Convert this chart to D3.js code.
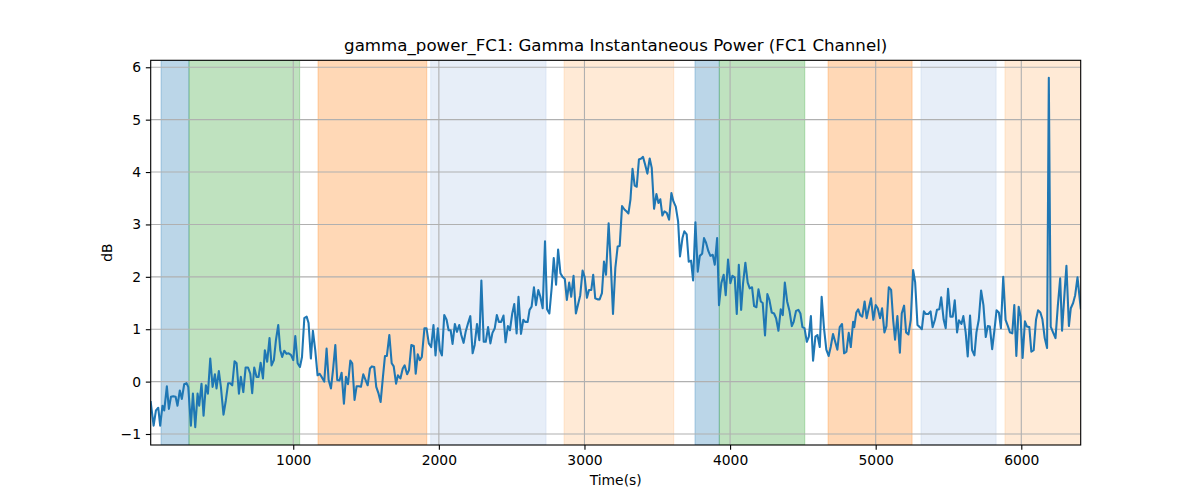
<!DOCTYPE html>
<html>
<head>
<meta charset="utf-8">
<script src="https://cdn.jsdelivr.net/npm/d3@7"></script>
<style>
  html, body { margin: 0; padding: 0; background: #ffffff; }
  svg { display: block; }
  text { font-family: "DejaVu Sans", sans-serif; fill: #000; }
</style>
</head>
<body>
<div id="chart"></div>
<script>
// ---------------- data ----------------
const chartTitle = "gamma_power_FC1: Gamma Instantaneous Power (FC1 Channel)";
const xLabel = "Time(s)";
const yLabel = "dB";

const xTicks = [1000, 2000, 3000, 4000, 5000, 6000];
const yTicks = [-1, 0, 1, 2, 3, 4, 5, 6];
const xDomain = [21, 6408];
const yDomain = [-1.21, 6.133];

// shaded stage intervals [start, end] and their category
const bandStarts = [92, 284, 1170, 1944, 2860, 3759, 3926, 4673, 5311, 5888];
const bandEnds   = [284, 1044, 1917, 2736, 3613, 3926, 4513, 5250, 5827, 6408];
const bandKinds  = ["A", "B", "C", "D", "E", "A", "B", "C", "D", "E"];
const bandColors = { A: "#1f77b4", B: "#2ca02c", C: "#ff7f0e", D: "#aec7e8", E: "#ffbb78" };

// gamma power time series
const times = [
  21,41,57,73,86,102,114,132,146,160,
  176,192,205,221,235,251,267,279,297,311,
  327,343,354,370,384,400,414,430,446,462,
  473,489,503,521,537,553,567,581,597,611,
  627,640,657,673,689,705,718,732,748,762,
  776,792,805,821,837,851,867,881,897,911,
  924,938,954,968,984,1000,1014,1030,1046,1060,
  1076,1092,1105,1121,1135,1151,1167,1181,1195,1213,
  1229,1243,1259,1273,1289,1302,1318,1332,1348,1362,
  1376,1392,1405,1421,1435,1451,1465,1481,1497,1511,
  1527,1540,1556,1570,1586,1600,1616,1630,1643,
  1660,1676,1690,1706,1719,1736,1752,1765,1782,1795,
  1811,1828,1841,1855,1869,1883,1901,1915,1931,1947,
  1963,1977,1993,2007,2021,2037,2053,2067,2081,2094,
  2110,2124,2140,2154,2170,2184,2200,2216,2232,2246,
  2262,2278,2292,2308,2322,2338,2354,2368,2384,2398,
  2412,2428,2444,2458,2474,2488,2504,2518,2534,2547,
  2564,2580,2593,2610,2623,2637,2653,2667,2683,2697,
  2713,2729,2743,2759,2775,2789,2805,2819,2835,2849,
  2865,2879,2895,2909,2925,2941,2955,2971,2987,3001,
  3017,3031,3047,3060,3074,3090,3104,3120,3134,3148,
  3166,3182,3196,3212,3228,3242,3258,3276,
  3288,3302,3316,3330,3345,3359,3374,3390,3402,3416,
  3432,3448,3462,3478,3494,3508,3521,3535,3549,3565,
  3581,3597,3611,3627,3643,3656,3673,3686,3702,3716,
  3732,3746,3762,3778,3792,3808,3821,3835,3851,3865,
  3881,3895,3911,3924,3940,3956,3970,3986,4002,4016,
  4032,4046,4060,4076,4089,4105,4121,4135,4151,4165,
  4181,4195,4211,4224,4240,4256,4270,4286,4302,4316,
  4332,4348,4362,4376,4392,4408,4424,4437,4453,4469,
  4483,4497,4511,4527,4541,4555,4570,4586,4600,4616,
  4629,4645,4661,4677,4691,4707,4722,4737,4753,4769,
  4783,4799,4815,4829,4845,
  4853,4867,4880,4894,4908,4924,4938,4954,4968,4984,
  5000,5014,5030,5044,5060,5074,5090,5106,5120,5133,
  5149,5166,5179,5195,5209,5225,5241,5257,5271,5287,
  5303,5317,5331,5345,5361,5377,5391,5407,5421,5437,
  5450,5467,5481,5497,5513,5529,5543,5559,5572,5589,
  5602,5618,5632,5648,5662,5678,5692,5708,5724,5740,
  5756,5770,5784,5800,5816,5830,5846,5860,5876,5892,
  5908,5922,5938,5952,5966,5982,5995,6009,6025,6039,
  6055,6069,6085,6101,6115,6131,6145,6161,6177,6189,
  6202,6218,6235,6251,6267,6280,6297,6310,6327,6340,
  6356,6370,6386,6408
];

const powerDb = [
  -0.39,-0.84,-0.55,-0.5,-0.84,-0.46,-0.55,-0.09,-0.52,-0.29,
  -0.28,-0.29,-0.46,-0.17,-0.33,-0.05,-0.03,-0.1,-0.84,-0.23,
  -0.87,-0.23,-0.46,-0.04,-0.65,-0.07,-0.23,0.44,-0.1,0.14,
  -0.13,0.2,-0.1,-0.63,-0.36,-0.03,-0.03,-0.07,0.39,0.35,
  -0.23,0.09,-0.2,0.27,0.27,0.15,-0.22,0.27,0.09,0.09,
  0.36,0.06,0.6,0.38,0.83,0.31,0.41,0.79,1.08,0.6,
  0.47,0.59,0.53,0.54,0.51,0.41,0.87,0.35,0.28,0.47,
  1.21,1.24,1.12,0.44,0.97,0.6,0.12,0.15,0.09,0,
  0.63,0.03,-0.13,0.22,0.7,0.03,0.02,0.17,-0.42,0.09,
  -0.05,0.4,0.35,-0.35,-0.09,-0.09,-0.1,0.14,0.03,-0.07,
  0.25,0.29,0.28,-0.1,-0.23,-0.39,0.09,0.49,0.49,
  0.89,0.35,0.29,-0.04,0.12,0.06,0.25,0.31,0.14,0.22,
  0.7,0.68,0.15,0.52,0.41,0.47,1.02,1.02,0.73,0.66,
  1.08,0.5,1.02,0.6,0.5,1.27,1.18,0.98,0.98,0.72,
  1.1,0.95,1.08,0.89,0.74,0.95,1.11,1.25,0.54,0.7,
  1.1,0.79,1.93,0.76,0.76,1.04,0.73,0.93,1.02,1.27,
  1.14,1.14,1.26,0.75,1.06,0.98,1.3,1.48,0.92,1.62,
  0.91,1.18,1.14,1.14,1.37,1.43,1.8,1.46,1.75,1.62,
  1.4,2.68,1.38,1.3,1.8,2.36,1.85,2.52,2.07,2.0,
  1.96,1.56,1.89,1.62,2.02,1.3,1.46,1.65,2.12,2.0,
  1.6,1.75,1.75,2.04,1.59,1.57,1.57,1.69,2.29,2.04,
  3.02,2.17,1.29,2.17,2.58,2.59,3.35,3.28,
  3.25,3.21,3.48,4.06,3.74,3.72,4.24,4.26,4.29,4.15,
  3.97,4.26,4.08,3.3,3.58,3.41,3.48,3.17,3.25,3.22,
  3.09,3.6,3.44,3.34,3.06,2.39,2.74,2.87,2.81,2.29,
  2.31,1.93,3.04,2.1,2.4,2.44,2.74,2.65,2.49,2.4,
  2.42,2.23,2.74,1.46,1.88,2.04,1.65,2.33,1.88,2.02,
  1.99,1.29,2.23,1.37,1.87,2.27,1.89,1.78,1.8,1.44,
  1.42,1.76,1.53,1.5,0.88,1.67,1.56,1.32,1.3,1.21,
  0.97,1.38,1.27,1.89,1.53,1.35,1.06,1.14,1.35,1.37,
  1.3,1.04,1.02,0.76,0.86,1.25,0.4,0.86,0.89,0.66,
  1.62,1.02,0.61,0.49,0.66,0.91,0.76,0.61,1.04,1.1,
  0.54,0.57,0.93,0.66,1.14,
  1.04,1.32,1.38,1.27,1.24,1.53,1.21,1.42,1.59,1.18,
  1.46,1.4,1.21,1.4,0.94,1.06,1.8,1.75,1.18,0.8,
  1.25,0.55,1.3,1.45,0.94,0.9,1.18,2.13,1.9,1.08,
  1.04,1.0,1.34,1.29,1.29,1.34,1.04,1.18,1.37,1.38,
  1.61,1.18,1.02,1.77,1.24,1.24,1.55,0.94,1.17,1.1,
  1.25,0.94,0.48,1.26,0.6,0.5,0.94,1.18,1.74,1.46,
  0.85,1.06,1.05,0.62,0.99,1.36,1.32,1.02,2.0,1.18,
  1.06,0.94,0.92,1.46,0.49,1.43,1.25,0.45,1.15,1.05,
  1.04,0.57,0.6,1.18,1.36,1.32,1.19,0.83,0.64,5.8,
  1.05,0.94,0.83,1.45,1.97,0.97,1.69,2.21,1.06,1.4,
  1.5,1.65,1.99,1.4
];

// ---------------- layout ----------------
const W = 1200, H = 500;
const plot = { left: 150.7, right: 1080.7, top: 60.3, bottom: 445 };
const px = v => v * 100 / 72; // points -> pixels at 100 dpi

const svg = d3.select("#chart").append("svg")
  .attr("width", W).attr("height", H);

const x = d3.scaleLinear().domain(xDomain).range([plot.left, plot.right]);
const y = d3.scaleLinear().domain(yDomain).range([plot.bottom, plot.top]);

svg.append("defs").append("clipPath").attr("id", "clip")
  .append("rect")
  .attr("x", plot.left).attr("y", plot.top)
  .attr("width", plot.right - plot.left).attr("height", plot.bottom - plot.top);

const inner = svg.append("g").attr("clip-path", "url(#clip)");

// bands
const bands = bandStarts.map((s, i) => ({ s, e: bandEnds[i], k: bandKinds[i] }));
inner.append("g").selectAll("rect").data(bands).join("rect")
  .attr("x", d => x(d.s))
  .attr("width", d => x(d.e) - x(d.s))
  .attr("y", plot.top)
  .attr("height", plot.bottom - plot.top)
  .attr("fill", d => bandColors[d.k])
  .attr("fill-opacity", 0.3)
  .attr("stroke", d => bandColors[d.k])
  .attr("stroke-opacity", 0.3)
  .attr("stroke-width", 1);

// grid
const grid = inner.append("g").attr("stroke", "#b0b0b0").attr("stroke-width", px(0.8));
grid.selectAll("line.gx").data(xTicks).join("line")
  .attr("class", "gx")
  .attr("x1", d => x(d)).attr("x2", d => x(d))
  .attr("y1", plot.top).attr("y2", plot.bottom);
grid.selectAll("line.gy").data(yTicks).join("line")
  .attr("class", "gy")
  .attr("y1", d => y(d)).attr("y2", d => y(d))
  .attr("x1", plot.left).attr("x2", plot.right);

// line
const n = Math.min(times.length, powerDb.length);
const series = d3.range(n).map(i => ({ t: times[i], v: powerDb[i] }));
inner.append("path")
  .datum(series)
  .attr("fill", "none")
  .attr("stroke", "#1f77b4")
  .attr("stroke-width", px(1.5))
  .attr("stroke-linejoin", "round")
  .attr("stroke-linecap", "square")
  .attr("d", d3.line().x(d => x(d.t)).y(d => y(d.v)));

// axes
const tickFont = px(10);
const xAxis = svg.append("g")
  .attr("transform", `translate(0,${plot.bottom})`)
  .call(d3.axisBottom(x).tickValues(xTicks).tickFormat(d3.format("d"))
    .tickSize(px(3.5)).tickPadding(px(3.5)));
const yAxis = svg.append("g")
  .attr("transform", `translate(${plot.left},0)`)
  .call(d3.axisLeft(y).tickValues(yTicks).tickFormat(d => d < 0 ? "\u2212" + Math.abs(d) : d)
    .tickSize(px(3.5)).tickPadding(px(3.5)));

[xAxis, yAxis].forEach(a => {
  a.select(".domain").remove();
  a.selectAll(".tick line").attr("stroke", "#000").attr("stroke-width", px(0.8));
  a.selectAll(".tick text")
    .style("font-family", "'DejaVu Sans', sans-serif")
    .style("font-size", tickFont + "px")
    .attr("fill", "#000");
});

// spines
svg.append("rect")
  .attr("x", plot.left).attr("y", plot.top)
  .attr("width", plot.right - plot.left).attr("height", plot.bottom - plot.top)
  .attr("fill", "none").attr("stroke", "#000").attr("stroke-width", px(0.8));

// labels
svg.append("text")
  .attr("x", (plot.left + plot.right) / 2).attr("y", plot.top - px(6) - 0.5)
  .attr("text-anchor", "middle")
  .style("font-size", px(12) + "px")
  .text(chartTitle);

svg.append("text")
  .attr("x", (plot.left + plot.right) / 2).attr("y", 485)
  .attr("text-anchor", "middle")
  .style("font-size", tickFont + "px")
  .text(xLabel);

svg.append("text")
  .attr("transform", `translate(111.5,${(plot.top + plot.bottom) / 2}) rotate(-90)`)
  .attr("text-anchor", "middle")
  .style("font-size", tickFont + "px")
  .text(yLabel);
</script>
</body>
</html>
